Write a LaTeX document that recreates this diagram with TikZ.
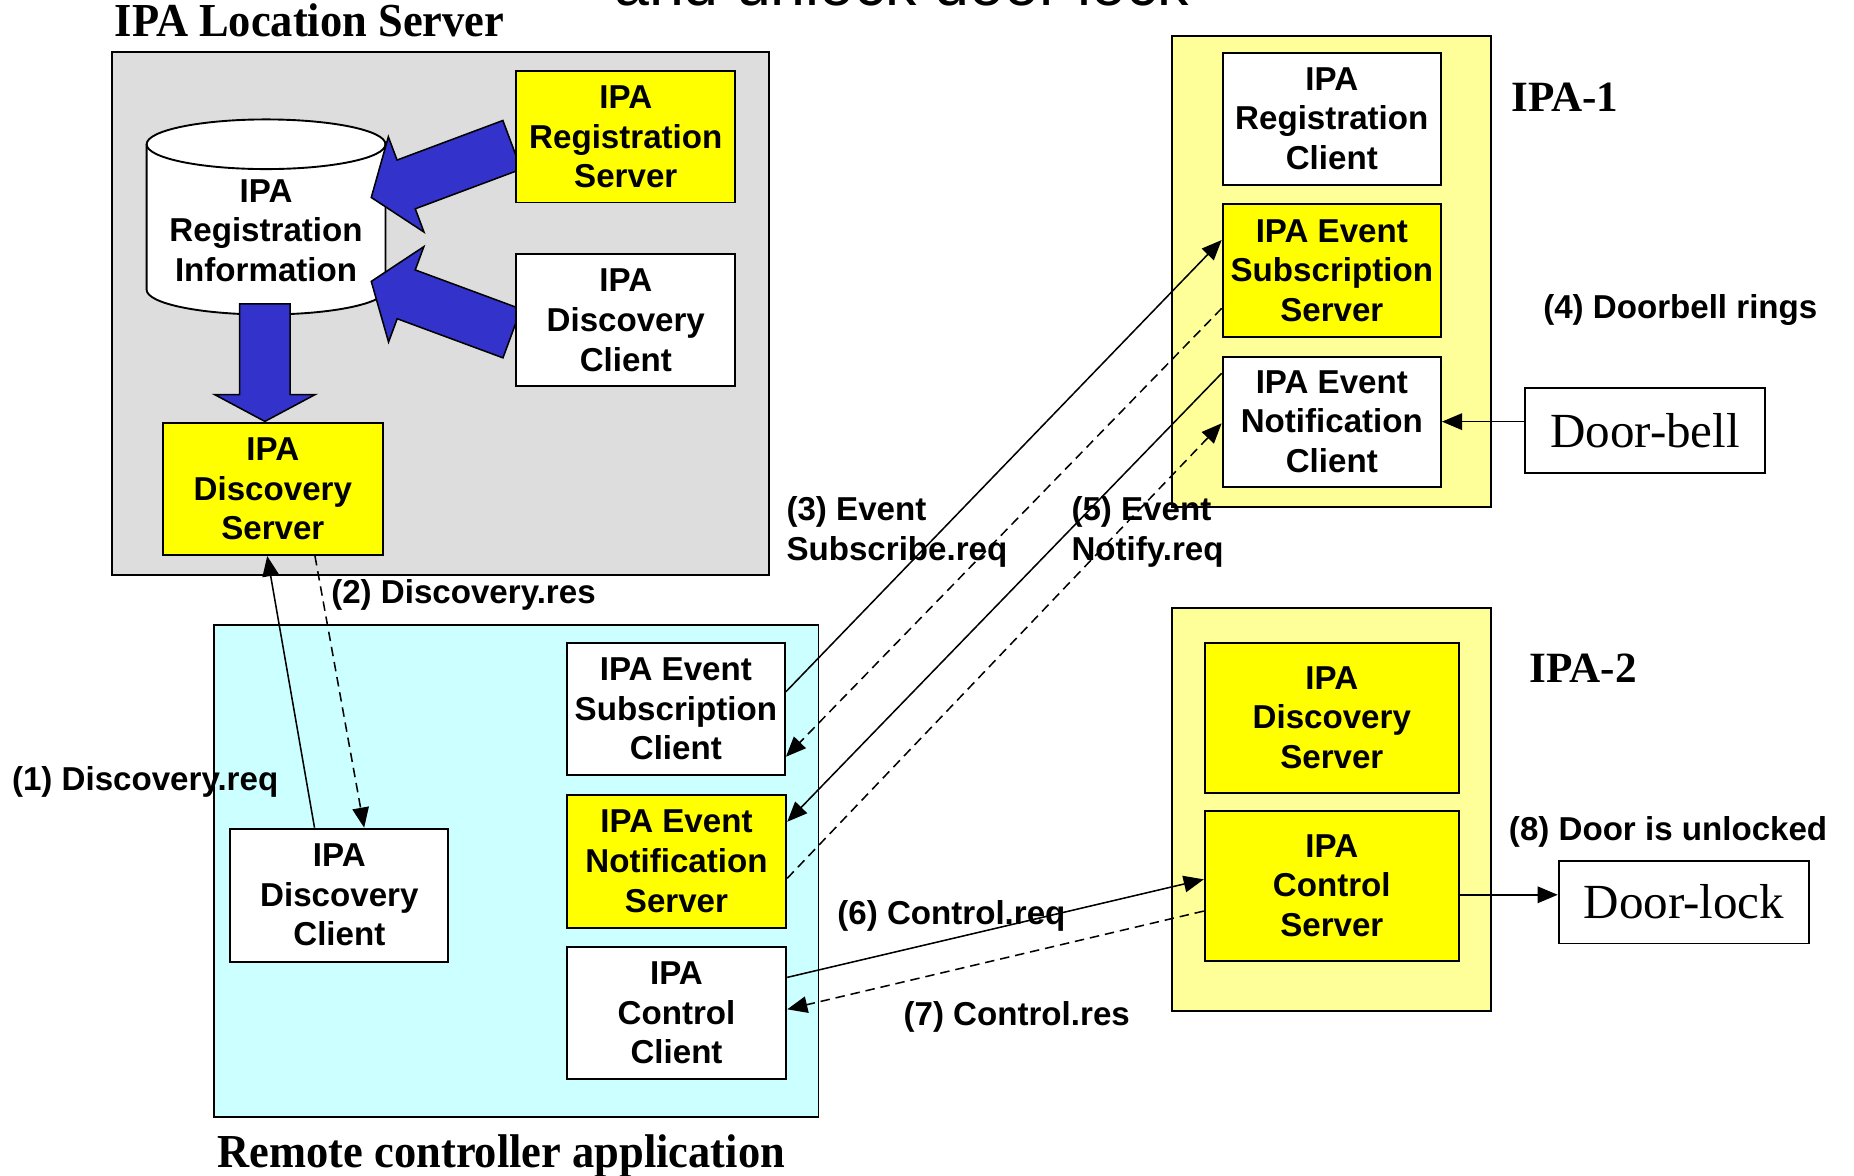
\documentclass[tikz,border=0pt]{standalone}
\usepackage{fontspec}
\setmainfont{Liberation Serif}
\newfontfamily\sansf{Liberation Sans}
\newfontfamily\titlef[FakeStretch=0.94]{Liberation Serif}
\usetikzlibrary{calc,arrows.meta}
\definecolor{lgray}{HTML}{DDDDDD}
\definecolor{lcyan}{HTML}{CCFFFF}
\definecolor{lyellow}{HTML}{FFFF99}
\definecolor{yel}{HTML}{FFFF00}
\definecolor{bblue}{HTML}{3333CC}
\newcommand\boxfont{\sansf\bfseries\fontsize{28}{33.5}\selectfont}
\newcommand\ttlfont{\titlef\bfseries\fontsize{40}{44}\selectfont}
\newcommand\grpfont{\bfseries\fontsize{36.5}{40}\selectfont}
\newcommand\devfont{\fontsize{41.5}{45}\selectfont}
% block arrow: tail, head, shaft half width, head half width, head length
\newcommand\blockarr[5]{%
  \coordinate (ba-p) at ($(#2)!#5pt!(#1)$);
  \filldraw[barrow] ($(#1)!#3pt!90:(#2)$) -- ($(ba-p)!#3pt!-90:(#1)$) -- ($(ba-p)!#4pt!-90:(#1)$) -- (#2)
    -- ($(ba-p)!#4pt!90:(#1)$) -- ($(ba-p)!#3pt!90:(#1)$) -- ($(#1)!#3pt!-90:(#2)$) -- cycle;}
\begin{document}
\begin{tikzpicture}[x=1pt,y=-1pt,
  grp/.style={draw=black, line width=1.6pt, inner sep=0pt},
  box/.style={draw=black, line width=1.6pt, fill=white, align=center, inner sep=0pt, font=\boxfont},
  ybox/.style={box, fill=yel},
  dev/.style={draw=black, line width=1.6pt, fill=white, inner sep=0pt, font=\devfont},
  lbl/.style={anchor=west, align=left, inner sep=0pt, font=\boxfont},
  barrow/.style={fill=bblue, draw=black, line width=1.3pt, line join=miter},
  conn/.style={line width=1.3pt, -{Triangle[length=17pt,width=14pt]}},
  dconn/.style={conn, dash pattern=on 8pt off 5pt},
  cylst/.style={draw=black, line width=1.6pt, fill=white}]
\useasboundingbox (0,0) rectangle (1568,994);
\fill[white] (0,0) rectangle (1568,994);

% cut-off heading at the top
\node[anchor=base, inner sep=0pt, font=\sansf\fontsize{53}{60}\selectfont] (head) at (762.5,4.5) {and unlock door lock};

% group titles
\node[anchor=base west, inner sep=0pt, font=\ttlfont] (tls) at (97,31) {IPA Location Server};
\node[anchor=base west, inner sep=0pt, font=\ttlfont] (trc) at (184,987) {Remote controller application};
\node[anchor=base west, inner sep=0pt, font=\grpfont] (tipa1) at (1278,94.4) {IPA-1};
\node[anchor=base west, inner sep=0pt, font=\grpfont] (tipa2) at (1293.5,577.4) {IPA-2};

% group boxes
\node[grp, fill=lgray, minimum width=555.5pt, minimum height=442pt] (ls) at (372.75,265) {};
\node[grp, fill=lcyan, minimum width=511pt, minimum height=415.9pt] (rc) at (436.7,736.45) {};
\node[grp, fill=lyellow, minimum width=269.7pt, minimum height=398.1pt] (ipa1) at (1126.35,229.45) {};
\node[grp, fill=lyellow, minimum width=269.7pt, minimum height=340.5pt] (ipa2) at (1126.35,684.75) {};

% database cylinder
\filldraw[cylst] (124,245) arc[start angle=180,end angle=360,x radius=101pt,y radius=21pt]
  -- (326,122) arc[start angle=0,end angle=180,x radius=101pt,y radius=21pt] -- cycle;
\draw[cylst, fill=none] (124,122) arc[start angle=180,end angle=360,x radius=101pt,y radius=21pt];
\node[align=center, inner sep=0pt, font=\boxfont] (cyl) at (225,195) {IPA\\Registration\\Information};

% block arrows
\coordinate (ba1t) at (433,122.5);
\coordinate (ba1h) at (314,167);
\coordinate (ba2t) at (433,282);
\coordinate (ba2h) at (314,238);
\coordinate (ba3t) at (224,257);
\coordinate (ba3h) at (224,356.4);
\blockarr{ba1t}{ba1h}{22}{43}{31.5}
\blockarr{ba2t}{ba2h}{22}{43}{31.5}
\blockarr{ba3t}{ba3h}{21.4}{42.5}{22.7}

% IPA Location Server contents
\node[ybox, minimum width=185.3pt, minimum height=111.2pt] (regsrv) at (529.25,115.7) {IPA\\Registration\\Server};
\node[box, minimum width=185.3pt, minimum height=111.8pt] (disccli) at (529.25,270.9) {IPA\\Discovery\\Client};
\node[ybox, minimum width=185.9pt, minimum height=111.7pt] (discsrv) at (230.75,413.65) {IPA\\Discovery\\Server};

% Remote controller contents
\node[box, minimum width=184.4pt, minimum height=112.5pt] (rdisccli) at (287,757.05) {IPA\\Discovery\\Client};
\node[box, minimum width=184.6pt, minimum height=111.1pt] (subcli) at (571.6,599.65) {IPA Event\\Subscription\\Client};
\node[ybox, minimum width=185.7pt, minimum height=112.6pt] (notsrv) at (572.15,728.4) {IPA Event\\Notification\\Server};
\node[box, minimum width=185.7pt, minimum height=111.2pt] (ctlcli) at (572.15,856.8) {IPA\\Control\\Client};

% IPA-1 contents
\node[box, minimum width=184.7pt, minimum height=111.7pt] (regcli) at (1126.35,100.35) {IPA\\Registration\\Client};
\node[ybox, minimum width=184.7pt, minimum height=111.9pt] (subsrv) at (1126.35,228.75) {IPA Event\\Subscription\\Server};
\node[box, minimum width=184.7pt, minimum height=110pt] (notcli) at (1126.35,356.6) {IPA Event\\Notification\\Client};
\node[dev, minimum width=203.2pt, minimum height=71.9pt] (doorbell) at (1391.3,364.35) {Door-bell};

% IPA-2 contents
\node[ybox, minimum width=214.9pt, minimum height=126.9pt] (dsrv2) at (1126.35,606.95) {IPA\\Discovery\\Server};
\node[ybox, minimum width=214.9pt, minimum height=126.9pt] (ctlsrv) at (1126.35,749.05) {IPA\\Control\\Server};
\node[dev, minimum width=211.9pt, minimum height=69.9pt] (doorlock) at (1424.15,762.95) {Door-lock};

% connectors
\draw[conn] ([xshift=-21pt]rdisccli.north) -- ([xshift=-4.75pt]discsrv.south);
\draw[dconn] ([xshift=35.65pt]discsrv.south) -- ([xshift=21pt]rdisccli.north);
\draw[conn] ([yshift=14.65pt]subcli.east) -- ([yshift=25.75pt]subsrv.west);
\draw[dconn] ([yshift=-32.05pt]subsrv.west) -- ([yshift=-40.35pt]subcli.east);
\draw[conn] ([yshift=40.9pt]notcli.west) -- ([yshift=33.4pt]notsrv.east);
\draw[dconn] ([yshift=-14.4pt]notsrv.east) -- ([yshift=-1.4pt]notcli.west);
\draw[conn] ([yshift=30.2pt]ctlcli.east) -- ([yshift=5.35pt]ctlsrv.west);
\draw[dconn] ([yshift=-21.45pt]ctlsrv.west) -- ([yshift=3.2pt]ctlcli.east);
\draw[conn] (doorbell.west |- notcli.east) -- (notcli.east);
\draw[conn] ([yshift=-7.7pt]ctlsrv.east) coordinate (c8) -- (doorlock.west |- c8);

% labels
\node[lbl] (l1) at (10,661) {(1) Discovery.req};
\node[lbl] (l2) at (280,503) {(2) Discovery.res};
\node[lbl] (l3) at (665,450) {(3) Event\\Subscribe.req};
\node[lbl] (l4) at (1305,262) {(4) Doorbell rings};
\node[lbl] (l5) at (906,450) {(5) Event\\Notify.req};
\node[lbl] (l6) at (708,775) {(6) Control.req};
\node[lbl] (l7) at (764,859.8) {(7) Control.res};
\node[lbl] (l8) at (1276,704) {(8) Door is unlocked};
\end{tikzpicture}
\end{document}
